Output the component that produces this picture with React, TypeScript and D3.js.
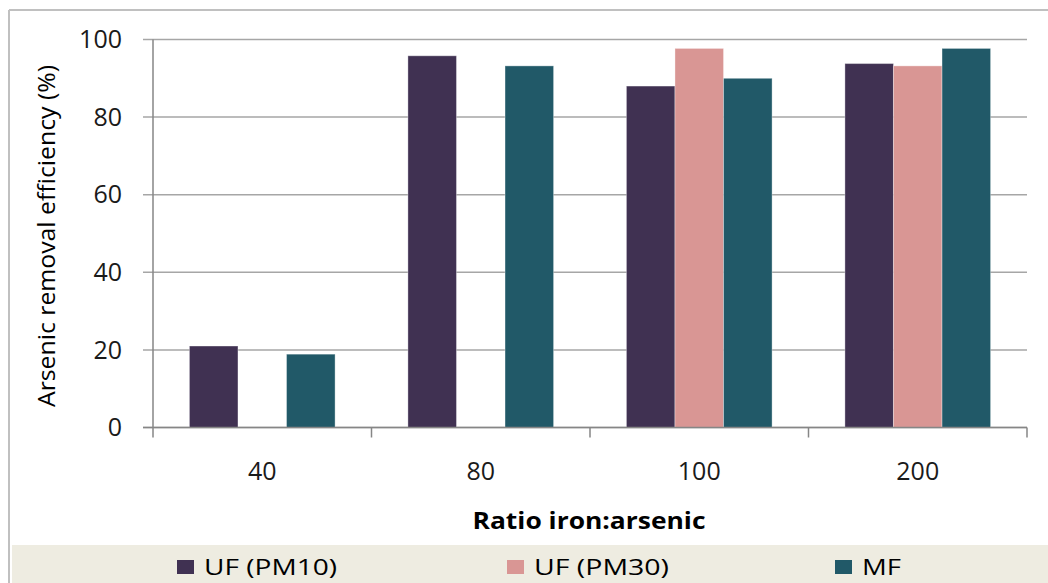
import React from "react";
import * as d3 from "d3";

const categories = ["40", "80", "100", "200"];
const seriesNames = ["UF (PM10)", "UF (PM30)", "MF"];
const ufPm10 = [21, 95.8, 88, 93.8];
const ufPm30: (number | null)[] = [null, null, 97.7, 93.2];
const mf = [18.9, 93.2, 90, 97.7];
const yTicks = [0, 20, 40, 60, 80, 100];
const colors = ["#403152", "#D99694", "#215968"];
const xTitle = "Ratio iron:arsenic";
const yTitle = "Arsenic removal efficiency (%)";

const W = 1048;
const H = 583;
const plotL = 153;
const plotR = 1027;
const plotT = 39.5;
const plotB = 427.5;
const FONT = "'Open Sans', 'DejaVu Sans', sans-serif";

export default function App() {
  const series = [ufPm10, ufPm30, mf];
  const x = d3.scaleBand<string>().domain(categories).range([plotL, plotR]).paddingInner(0).paddingOuter(0);
  const xs = d3
    .scaleBand<string>()
    .domain(seriesNames)
    .range([0, x.bandwidth()])
    .paddingInner(0)
    .paddingOuter(0.75);
  const y = d3.scaleLinear().domain([0, 100]).range([plotB, plotT]);

  const legendX = [177, 507, 835];

  return (
    <svg
      width={W}
      height={H}
      style={{ position: "absolute", left: 0, top: 0, background: "#fff" }}
      fontFamily={FONT}
    >
      <rect x={0} y={0} width={W} height={H} fill="#fff" />
      {/* outer border */}
      <line x1={9} y1={10} x2={W} y2={10} stroke="#C0C0C0" strokeWidth={2} />
      <line x1={9} y1={10} x2={9} y2={H} stroke="#C0C0C0" strokeWidth={2} />
      {/* gridlines */}
      {yTicks.map((t) => (
        <line
          key={"g" + t}
          x1={plotL - 10}
          x2={plotR}
          y1={y(t)}
          y2={y(t)}
          stroke="#A6A6A6"
          strokeWidth={1.5}
        />
      ))}
      {/* bars */}
      {series.map((vals, si) =>
        vals.map((v, ci) =>
          v == null ? null : (
            <rect
              key={`b${si}-${ci}`}
              x={(x(categories[ci]) as number) + (xs(seriesNames[si]) as number)}
              y={y(v)}
              width={xs.bandwidth()}
              height={plotB - y(v)}
              fill={colors[si]}
              stroke="rgba(255,255,255,0.35)"
              strokeWidth={1}
            />
          )
        )
      )}
      {/* axes */}
      <line x1={plotL} x2={plotL} y1={plotT} y2={plotB + 10} stroke="#868686" strokeWidth={1.5} />
      <line x1={plotL - 10} x2={plotR} y1={plotB} y2={plotB} stroke="#868686" strokeWidth={1.5} />
      {categories.map((c, i) => (
        <line
          key={"xt" + i}
          x1={(x(c) as number) + x.bandwidth()}
          x2={(x(c) as number) + x.bandwidth()}
          y1={plotB}
          y2={plotB + 10}
          stroke="#868686"
          strokeWidth={1.5}
        />
      ))}
      {/* y tick labels */}
      {yTicks.map((t) => (
        <text
          key={"yl" + t}
          x={122}
          y={y(t)}
          dy="0.35em"
          textAnchor="end"
          fontSize={25}
          fill="#1a1a1a"
        >
          {t}
        </text>
      ))}
      {/* x tick labels */}
      {categories.map((c) => (
        <text
          key={"xl" + c}
          x={(x(c) as number) + x.bandwidth() / 2}
          y={480}
          textAnchor="middle"
          fontSize={25}
          fill="#1a1a1a"
        >
          {c}
        </text>
      ))}
      {/* axis titles */}
      <text
        x={(plotL + plotR) / 2 - 1}
        y={529}
        textAnchor="middle"
        fontSize={23}
        fontWeight="bold"
        fill="#000"
        textLength={233}
        lengthAdjust="spacingAndGlyphs"
      >
        {xTitle}
      </text>
      <text
        transform={`translate(55, 236) rotate(-90)`}
        textAnchor="middle"
        fontSize={24}
        fill="#000"
        textLength={342}
        lengthAdjust="spacingAndGlyphs"
      >
        {yTitle}
      </text>
      {/* legend */}
      <rect x={12} y={545} width={W - 12} height={H - 545} fill="#EEECE1" />
      {seriesNames.map((n, i) => (
        <g key={"lg" + i}>
          <rect x={legendX[i]} y={560} width={17} height={14} fill={colors[i]} />
          <text
            x={legendX[i] + 27}
            y={574.5}
            fontSize={22}
            fill="#000"
            textLength={[133, 135, 39][i]}
            lengthAdjust="spacingAndGlyphs"
          >
            {n}
          </text>
        </g>
      ))}
    </svg>
  );
}
